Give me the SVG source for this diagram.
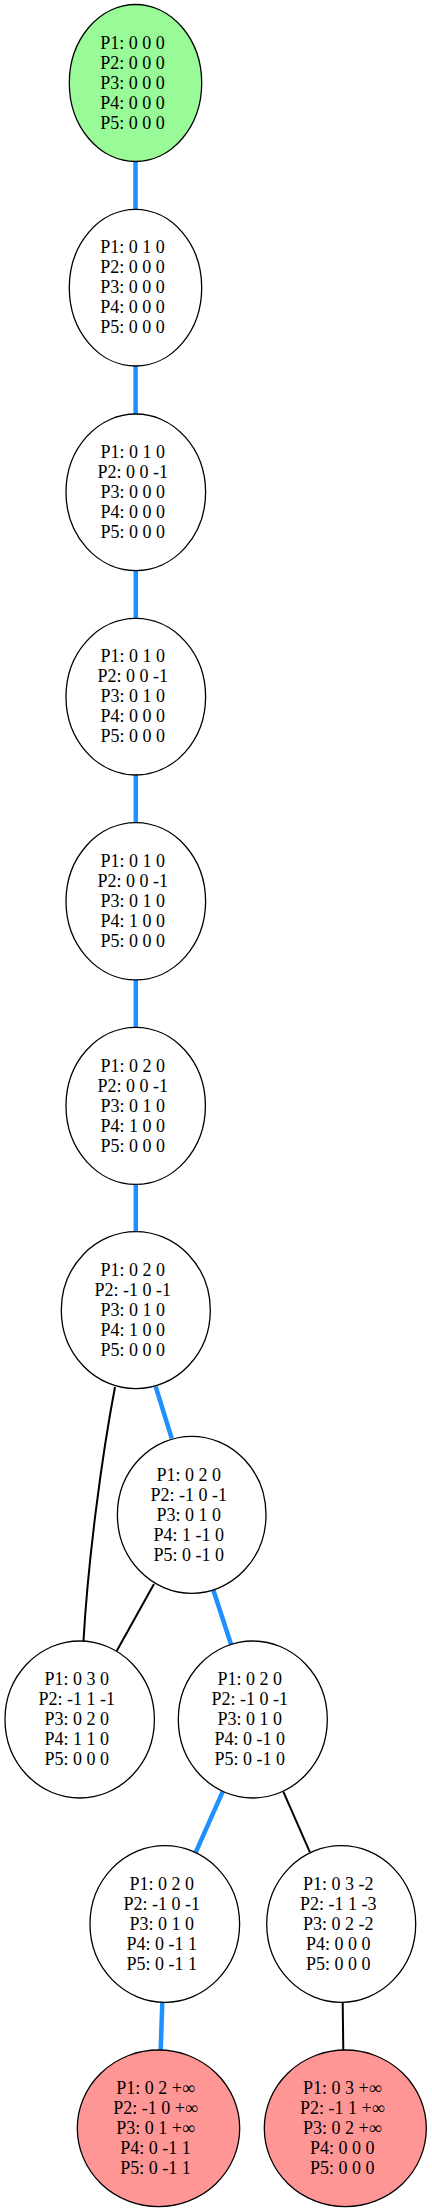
<svg xmlns="http://www.w3.org/2000/svg" width="432" height="2212" viewBox="0 0 432 2212">
<style>
.n ellipse{fill:#ffffff;stroke:#000000;stroke-width:1.3}
.n.g ellipse{fill:#98fb98}
.n.r ellipse{fill:#ff9696}
.n text{font-family:"Liberation Serif","Times New Roman",serif;font-size:18px;text-anchor:middle;fill:#000000}
.e{fill:none;stroke:#000000;stroke-width:2}
.e.b{stroke:#1e90ff;stroke-width:4.5}
</style>
<rect width="432" height="2212" fill="#ffffff"/>
<g id="edges">
<line class="e b" x1="135.5" y1="161.7" x2="135.5" y2="209.3"/>
<line class="e b" x1="135.6" y1="366" x2="135.6" y2="414"/>
<line class="e b" x1="135.8" y1="570.7" x2="135.8" y2="618.3"/>
<line class="e b" x1="135.8" y1="775" x2="135.8" y2="822.7"/>
<line class="e b" x1="135.8" y1="980" x2="135.8" y2="1027.3"/>
<line class="e b" x1="135.8" y1="1184.3" x2="135.8" y2="1231.7"/>
<line class="e b" x1="155.7" y1="1386.7" x2="171.7" y2="1438.3"/>
<path class="e" d="M115,1387 C102,1455 88,1560 83.5,1641"/>
<line class="e" x1="154" y1="1584" x2="116.7" y2="1651"/>
<line class="e b" x1="213.3" y1="1590" x2="231" y2="1644.3"/>
<line class="e b" x1="222.7" y1="1791.7" x2="195.7" y2="1852.3"/>
<line class="e" x1="283.3" y1="1791.7" x2="310" y2="1852.3"/>
<line class="e b" x1="162.3" y1="2002.3" x2="160.7" y2="2050"/>
<line class="e" x1="342.7" y1="2002.3" x2="343.3" y2="2050"/>
</g>
<g id="n1" class="n g">
<ellipse cx="135.5" cy="83" rx="66.2" ry="78.5"/>
<text x="132.6" y="48.7">P1: 0 0 0</text><text x="132.6" y="68.7">P2: 0 0 0</text><text x="132.6" y="88.7">P3: 0 0 0</text><text x="132.6" y="108.7">P4: 0 0 0</text><text x="132.6" y="128.7">P5: 0 0 0</text>
</g>
<g id="n2" class="n">
<ellipse cx="135.5" cy="287.7" rx="66.2" ry="78.3"/>
<text x="132.6" y="253.4">P1: 0 1 0</text><text x="132.6" y="273.4">P2: 0 0 0</text><text x="132.6" y="293.4">P3: 0 0 0</text><text x="132.6" y="313.4">P4: 0 0 0</text><text x="132.6" y="333.4">P5: 0 0 0</text>
</g>
<g id="n3" class="n">
<ellipse cx="135.8" cy="492.3" rx="69.8" ry="78.3"/>
<text x="132.7" y="458">P1: 0 1 0</text><text x="132.7" y="478">P2: 0 0 -1</text><text x="132.7" y="498">P3: 0 0 0</text><text x="132.7" y="518">P4: 0 0 0</text><text x="132.7" y="538">P5: 0 0 0</text>
</g>
<g id="n4" class="n">
<ellipse cx="135.8" cy="696.7" rx="69.8" ry="78.3"/>
<text x="132.7" y="662.4">P1: 0 1 0</text><text x="132.7" y="682.4">P2: 0 0 -1</text><text x="132.7" y="702.4">P3: 0 1 0</text><text x="132.7" y="722.4">P4: 0 0 0</text><text x="132.7" y="742.4">P5: 0 0 0</text>
</g>
<g id="n5" class="n">
<ellipse cx="135.8" cy="901.3" rx="69.8" ry="78.6"/>
<text x="132.7" y="867">P1: 0 1 0</text><text x="132.7" y="887">P2: 0 0 -1</text><text x="132.7" y="907">P3: 0 1 0</text><text x="132.7" y="927">P4: 1 0 0</text><text x="132.7" y="947">P5: 0 0 0</text>
</g>
<g id="n6" class="n">
<ellipse cx="135.7" cy="1105.8" rx="69.7" ry="78.5"/>
<text x="132.7" y="1071.5">P1: 0 2 0</text><text x="132.7" y="1091.5">P2: 0 0 -1</text><text x="132.7" y="1111.5">P3: 0 1 0</text><text x="132.7" y="1131.5">P4: 1 0 0</text><text x="132.7" y="1151.5">P5: 0 0 0</text>
</g>
<g id="n7" class="n">
<ellipse cx="135.8" cy="1310.2" rx="74.5" ry="78.5"/>
<text x="132.7" y="1275.9">P1: 0 2 0</text><text x="132.7" y="1295.9">P2: -1 0 -1</text><text x="132.7" y="1315.9">P3: 0 1 0</text><text x="132.7" y="1335.9">P4: 1 0 0</text><text x="132.7" y="1355.9">P5: 0 0 0</text>
</g>
<g id="n8" class="n">
<ellipse cx="191.7" cy="1514.8" rx="74.3" ry="78.5"/>
<text x="188.7" y="1480.5">P1: 0 2 0</text><text x="188.7" y="1500.5">P2: -1 0 -1</text><text x="188.7" y="1520.5">P3: 0 1 0</text><text x="188.7" y="1540.5">P4: 1 -1 0</text><text x="188.7" y="1560.5">P5: 0 -1 0</text>
</g>
<g id="n9" class="n">
<ellipse cx="79.7" cy="1719.5" rx="74.7" ry="78.5"/>
<text x="76.7" y="1685.2">P1: 0 3 0</text><text x="76.7" y="1705.2">P2: -1 1 -1</text><text x="76.7" y="1725.2">P3: 0 2 0</text><text x="76.7" y="1745.2">P4: 1 1 0</text><text x="76.7" y="1765.2">P5: 0 0 0</text>
</g>
<g id="n10" class="n">
<ellipse cx="252.8" cy="1719.5" rx="74.5" ry="78.5"/>
<text x="249.8" y="1685.2">P1: 0 2 0</text><text x="249.8" y="1705.2">P2: -1 0 -1</text><text x="249.8" y="1725.2">P3: 0 1 0</text><text x="249.8" y="1745.2">P4: 0 -1 0</text><text x="249.8" y="1765.2">P5: 0 -1 0</text>
</g>
<g id="n11" class="n">
<ellipse cx="164.8" cy="1924" rx="74.8" ry="78.3"/>
<text x="161.8" y="1889.7">P1: 0 2 0</text><text x="161.8" y="1909.7">P2: -1 0 -1</text><text x="161.8" y="1929.7">P3: 0 1 0</text><text x="161.8" y="1949.7">P4: 0 -1 1</text><text x="161.8" y="1969.7">P5: 0 -1 1</text>
</g>
<g id="n12" class="n">
<ellipse cx="341.2" cy="1924" rx="74.5" ry="78.3"/>
<text x="338.2" y="1889.7">P1: 0 3 -2</text><text x="338.2" y="1909.7">P2: -1 1 -3</text><text x="338.2" y="1929.7">P3: 0 2 -2</text><text x="338.2" y="1949.7">P4: 0 0 0</text><text x="338.2" y="1969.7">P5: 0 0 0</text>
</g>
<g id="n13" class="n r">
<ellipse cx="158.5" cy="2128.3" rx="81.2" ry="78.3"/>
<text x="155.5" y="2094">P1: 0 2 +∞</text><text x="155.5" y="2114">P2: -1 0 +∞</text><text x="155.5" y="2134">P3: 0 1 +∞</text><text x="155.5" y="2154">P4: 0 -1 1</text><text x="155.5" y="2174">P5: 0 -1 1</text>
</g>
<g id="n14" class="n r">
<ellipse cx="345.3" cy="2128.3" rx="81" ry="78.3"/>
<text x="342.3" y="2094">P1: 0 3 +∞</text><text x="342.3" y="2114">P2: -1 1 +∞</text><text x="342.3" y="2134">P3: 0 2 +∞</text><text x="342.3" y="2154">P4: 0 0 0</text><text x="342.3" y="2174">P5: 0 0 0</text>
</g>
</svg>
